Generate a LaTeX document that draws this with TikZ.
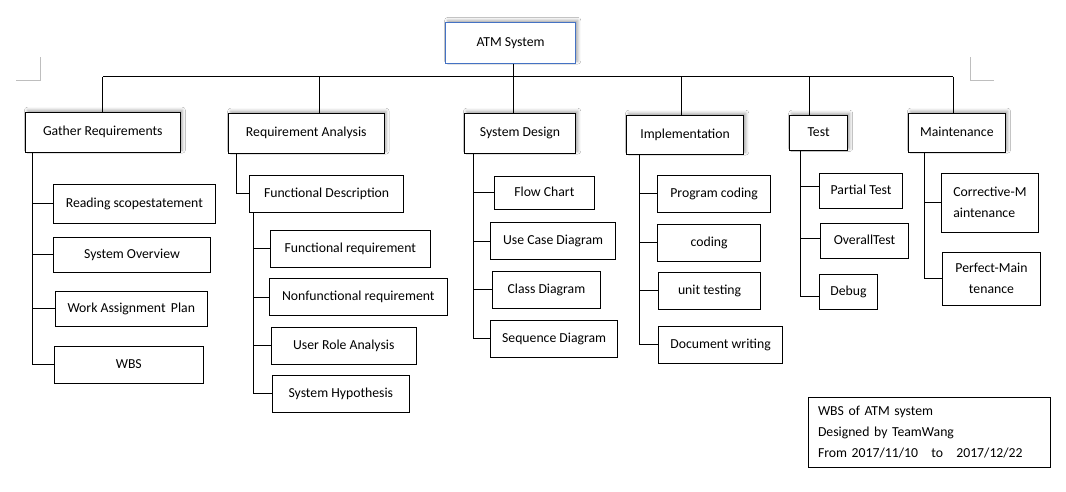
\documentclass[tikz,border=0pt]{standalone}
\usepackage{fontspec}
\setmainfont{Carlito}
\usetikzlibrary{shadows.blur}
\definecolor{atmblue}{RGB}{68,114,196}
\definecolor{markgray}{RGB}{190,190,190}
\newcommand\wbox[7][]{\node[box,#1,minimum width={(#5-#3)*0.75pt},minimum height={(#6-#4)*0.75pt}] (#2) at ({(#3+#5)/2},{(#4+#6)/2}) {#7};}
\tikzset{
  box/.style={draw=black,line width=0.75pt,fill=white,inner sep=0pt,align=center,
    font=\fontsize{10.3}{15.75}\selectfont},
  oneline/.style={text height=7.4pt,text depth=2.3pt},
  topshadow/.style={blur shadow={shadow xshift=1.6pt,shadow yshift=1.6pt,shadow blur radius=2.2pt,shadow opacity=35}},
  conn/.style={draw=black,line width=0.75pt},
  pagemark/.style={draw=markgray,line width=0.75pt}
}
\begin{document}
\begin{tikzpicture}[x=0.75pt,y=-0.75pt]
\useasboundingbox[fill=white] (0,0) rectangle (1066,492);
% page corner marks
\draw[pagemark] (40,57.3) -- (40,80.3) -- (16,80.3);
\draw[pagemark] (970.4,57.3) -- (970.4,80.3) -- (994.2,80.3);
% root and top level
\wbox[oneline,topshadow,draw=atmblue]{atm}{445.5}{22.5}{575.7}{63.3}{ATM System}
\wbox[oneline,topshadow]{g}{25.3}{112.3}{180.3}{152.3}{Gather Requirements}
\wbox[oneline,topshadow]{ra}{228.5}{113.3}{384}{153.3}{Requirement Analysis}
\wbox[oneline,topshadow]{sd}{464.3}{113.3}{575.7}{153.3}{System Design}
\wbox[oneline,topshadow]{im}{626.4}{115.3}{743.7}{154.3}{Implementation}
\wbox[oneline,topshadow]{ts}{789.5}{115.3}{847.6}{150.7}{Test}
\wbox[oneline,topshadow]{mt}{908.3}{113.3}{1005.4}{152.3}{Maintenance}
% gather children
\wbox[oneline]{g1}{53.2}{184.3}{215.5}{223.3}{Reading scopestatement}
\wbox[oneline]{g2}{53.3}{237.3}{210.7}{272.3}{System Overview}
\wbox[oneline]{g3}{55.3}{291.3}{207.3}{326.3}{Work Assignment\ \,Plan}
\wbox[oneline]{g4}{54.3}{346}{203.3}{383.3}{WBS}
% requirement analysis
\wbox[oneline]{fd}{249.5}{175.3}{403.7}{212.3}{Functional Description}
\wbox[oneline]{r1}{270.3}{230.3}{430.3}{267.3}{Functional requirement}
\wbox[oneline]{r2}{269.3}{278.7}{447.3}{315.3}{Nonfunctional requirement}
\wbox[oneline]{r3}{271.3}{327.3}{416.3}{364.3}{User Role Analysis}
\wbox[oneline]{r4}{272.3}{375.3}{409.3}{412.3}{System Hypothesis}
% system design
\wbox[oneline]{s1}{494.4}{176.3}{594.3}{209.3}{Flow Chart}
\wbox[oneline]{s2}{490.5}{222.3}{615.8}{259.7}{Use Case Diagram}
\wbox[oneline]{s3}{492.4}{271.3}{600.5}{308.3}{Class Diagram}
\wbox[oneline]{s4}{490.5}{320.3}{617.8}{357.3}{Sequence Diagram}
% implementation
\wbox[oneline]{i1}{657.4}{175.3}{770.8}{212.3}{Program coding}
\wbox[oneline]{i2}{657.5}{224.3}{760.8}{261.3}{coding}
\wbox[oneline]{i3}{658.3}{272.3}{760.8}{309.3}{unit testing}
\wbox[oneline]{i4}{658.3}{326.3}{782.8}{363.3}{Document writing}
% test
\wbox[oneline]{t1}{819.5}{173.3}{902.5}{208.3}{Partial Test}
\wbox[oneline]{t2}{820.5}{223.3}{908.5}{258.3}{OverallTest}
\wbox[oneline]{t3}{819.3}{274.3}{877.5}{309.3}{Debug}
% maintenance
\wbox[align=left]{m1}{941.5}{173.3}{1038.3}{232.3}{Corrective-M\\aintenance}
\wbox{m2}{942.3}{252.3}{1040.6}{305.3}{Perfect-Main\\tenance}
% info box
\node[box,align=left,anchor=north west,text width=166.5pt,inner xsep=7.5pt,
  minimum height={70.6*0.75pt}] (info) at (807.5,396.7)
  {WBS of ATM system\\Designed by TeamWang\\From 2017/11/10\hspace*{10pt}to\hspace*{10pt}2017/12/22};
% bus
\coordinate (b1) at (102.8,77);
\coordinate (b2) at (319.6,77);
\coordinate (b3) at (513.3,77);
\coordinate (b4) at (681.2,77);
\coordinate (b5) at (809.4,77);
\coordinate (b6) at (953.4,77);
\draw[conn] (b1) -- (b6);
\draw[conn] (atm.south -| b3) -- (b3 |- sd.north);
\draw[conn] (b1) -- (g.north);
\draw[conn] (b2) -- (b2 |- ra.north);
\draw[conn] (b4) -- (b4 |- im.north);
\draw[conn] (b5) -- (b5 |- ts.north);
\draw[conn] (b6) -- (b6 |- mt.north);
% vertical spines
\coordinate (vg) at (32.9,0);
\coordinate (vra) at (236.5,0);
\coordinate (vfd) at (253.5,0);
\coordinate (vsd) at (473.6,0);
\coordinate (vim) at (639.5,0);
\coordinate (vts) at (800.6,0);
\coordinate (vmt) at (924.5,0);
\draw[conn] (vg |- g.south) -- (vg |- g4.west) -- (g4.west);
\foreach \c in {g1,g2,g3} \draw[conn] (vg |- \c.west) -- (\c.west);
\draw[conn] (vra |- ra.south) -- (vra |- fd.west) -- (fd.west);
\draw[conn] (vfd |- fd.south) -- (vfd |- r4.west) -- (r4.west);
\foreach \c in {r1,r2,r3} \draw[conn] (vfd |- \c.west) -- (\c.west);
\draw[conn] (vsd |- sd.south) -- (vsd |- s4.west) -- (s4.west);
\foreach \c in {s1,s2,s3} \draw[conn] (vsd |- \c.west) -- (\c.west);
\draw[conn] (vim |- im.south) -- (vim |- i4.west) -- (i4.west);
\foreach \c in {i1,i2,i3} \draw[conn] (vim |- \c.west) -- (\c.west);
\coordinate (t1c) at ([yshift=3pt]t1.west);
\coordinate (t2c) at ([yshift=1.9pt]t2.west);
\coordinate (t3c) at ([yshift=-3.4pt]t3.west);
\draw[conn] (vts |- ts.south) -- (vts |- t3c) -- (t3c);
\foreach \c in {t1c,t2c} \draw[conn] (vts |- \c) -- (\c);
\draw[conn] (vmt |- mt.south) -- (vmt |- m2.west) -- (m2.west);
\draw[conn] (vmt |- m1.west) -- (m1.west);
\end{tikzpicture}
\end{document}
